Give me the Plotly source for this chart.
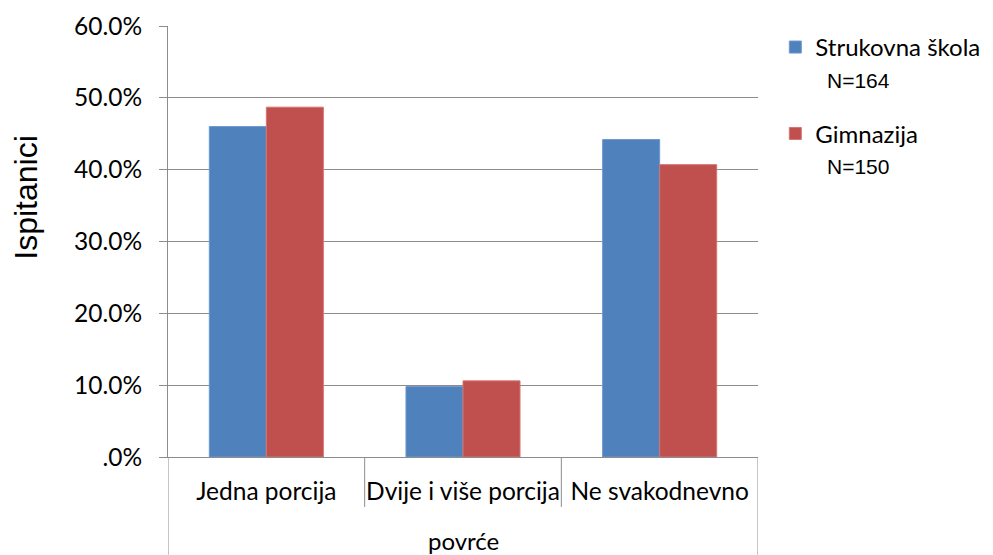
import plotly.graph_objects as go

# podaci
kategorije = ["Jedna porcija", "Dvije i više porcija", "Ne svakodnevno"]
strukovna = [0.460, 0.098, 0.442]
gimnazija = [0.487, 0.106, 0.407]
y_tickovi = [0, 0.1, 0.2, 0.3, 0.4, 0.5, 0.6]
y_oznake = [".0%", "10.0%", "20.0%", "30.0%", "40.0%", "50.0%", "60.0%"]

siva = "#8c8c8c"
font_tick = "Lato, Open Sans, sans-serif"
font_arial = "Liberation Sans, Arial, sans-serif"
n_stil = "font-family:Liberation Sans;font-size:21px"

fig = go.Figure()
fig.add_trace(go.Bar(
    x=kategorije, y=strukovna, legendgroup="a",
    name=f"Strukovna škola<br><span style='{n_stil}'>&nbsp;&nbsp;N=164</span>",
    marker=dict(color="#4F81BD", line=dict(color="#6f98cc", width=1)),
))
fig.add_trace(go.Bar(
    x=kategorije, y=gimnazija, legendgroup="b",
    name=f"Gimnazija<br><span style='{n_stil}'>&nbsp;&nbsp;N=150</span>",
    marker=dict(color="#C0504D", line=dict(color="#d47672", width=1)),
))

# okviri ispod osi x
granice = [-0.5, 0.5, 1.5, 2.5]
for i, g in enumerate(granice):
    kraj = -0.227 if i in (0, len(granice) - 1) else -0.116
    fig.add_shape(type="line", xref="x", yref="paper", x0=g, x1=g, y0=0, y1=kraj,
                  line=dict(color=siva, width=1))

fig.add_annotation(text="povrće", xref="paper", yref="paper", x=0.5, y=-0.193,
                   xanchor="center", yanchor="middle",
                   showarrow=False, font=dict(family=font_tick, size=24, color="#000"))
fig.add_annotation(text="Ispitanici", xref="paper", yref="paper", x=-0.242, y=0.602,
                   xanchor="center", yanchor="middle",
                   textangle=-90, showarrow=False,
                   font=dict(family=font_arial, size=32, color="#000"))

# stranica ima marginu 8px, pa je slika manja za 8px
fig.update_layout(
    width=985, height=547,
    margin=dict(l=160, r=235, t=18, b=98),
    plot_bgcolor="white", paper_bgcolor="white",
    barmode="group", bargap=0.42, bargroupgap=0,
    showlegend=True,
    legend=dict(xref="container", yref="container", x=0.779, y=0.969,
                xanchor="left", yanchor="top", valign="top",
                font=dict(family=font_tick, size=24, color="#000"),
                tracegroupgap=21, itemwidth=30, bgcolor="rgba(0,0,0,0)"),
    xaxis=dict(showline=True, linecolor=siva, linewidth=1, ticks="", automargin=False,
               tickfont=dict(family=font_tick, size=24.5, color="#000"),
               ticklabelstandoff=13, range=[-0.5, 2.5]),
    yaxis=dict(range=[0, 0.6], tickvals=y_tickovi, ticktext=y_oznake, automargin=False,
               showline=True, linecolor=siva, linewidth=1,
               ticks="outside", ticklen=8, tickcolor=siva,
               showgrid=True, gridcolor=siva, gridwidth=1, zeroline=False,
               ticklabelstandoff=12,
               tickfont=dict(family=font_tick, size=24.5, color="#000")),
)

fig.write_html("out.html")
